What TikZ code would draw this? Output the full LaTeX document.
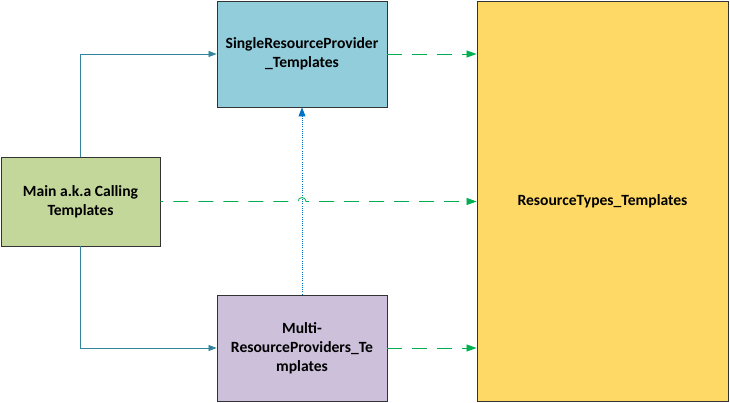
\documentclass[tikz,border=0pt]{standalone}
\usepackage{fontspec}
\setmainfont{Carlito}
\usetikzlibrary{arrows.meta,positioning}
\definecolor{mainfill}{HTML}{C4D79B}
\definecolor{singlefill}{HTML}{92CDDC}
\definecolor{multifill}{HTML}{CCC0DA}
\definecolor{typesfill}{HTML}{FFD966}
\definecolor{calltone}{HTML}{31849B}
\definecolor{feedtone}{HTML}{00B050}
\definecolor{deptone}{HTML}{0070C0}
\begin{document}
\begin{tikzpicture}[x=1pt,y=-1pt,
   box/.style={draw=black!80,line width=0.9pt,align=center,inner sep=0pt,
     font=\bfseries\fontsize{15.6}{19}\selectfont},
   call/.style={draw=calltone,line width=0.7pt,-{Triangle[length=8pt,width=6pt]}},
   feed/.style={draw=feedtone,line width=0.8pt,dash pattern=on 15pt off 10pt,
     -{Triangle[length=10pt,width=7pt]}},
   dep/.style={draw=deptone,line width=0.9pt,dash pattern=on 1pt off 1.2pt,
     -{Triangle[length=9pt,width=7pt]}}]
\useasboundingbox (0,0) rectangle (730,403);
\node[box,fill=mainfill,minimum width=159pt,minimum height=89pt] (main) at (80.5,201.5) {Main a.k.a Calling\\Templates};
\node[box,fill=singlefill,minimum width=170pt,minimum height=106pt] (single) at (302,54) {SingleResourceProvider\\\_Templates};
\node[box,fill=multifill,minimum width=170pt,minimum height=106pt] (multi) at (302,348) {Multi-\\ResourceProviders\_Te\\mplates};
\node[box,fill=typesfill,minimum width=251pt,minimum height=400pt] (types) at (602.5,201) {ResourceTypes\_Templates};
\coordinate (hop) at (multi.north |- main.east);
\draw[call] (main.north) |- (single.west);
\draw[call] (main.south) |- (multi.west);
\draw[dep] (multi.north) -- (single.south);
\draw[feed,dash phase=12pt] (main.east) -- ([xshift=-4pt]hop) arc[start angle=180,end angle=0,radius=4pt] -- (types.west |- main.east);
\draw[feed] (single.east) -- (types.west |- single.east);
\draw[feed] (multi.east) -- (types.west |- multi.east);
\end{tikzpicture}
\end{document}
